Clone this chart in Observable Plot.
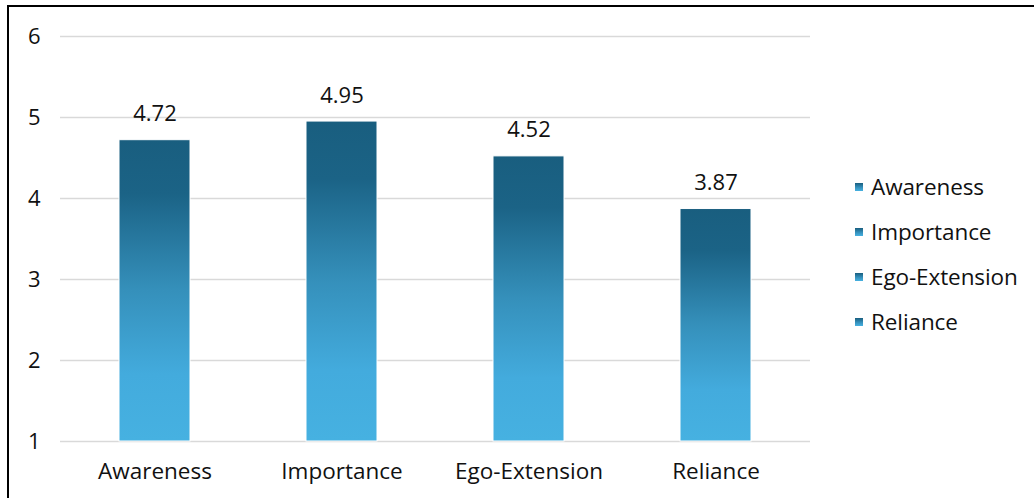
<!DOCTYPE html>
<html>
<head>
<meta charset="utf-8">
<script src="https://cdn.jsdelivr.net/npm/d3@7"></script>
<script src="https://cdn.jsdelivr.net/npm/@observablehq/plot@0.6"></script>
<style>
  html, body { margin: 0; padding: 0; background: #fff; }
  #wrap { position: relative; width: 1034px; height: 498px; overflow: hidden; font-family: "Open Sans", "Liberation Sans", sans-serif; }
  #frame { position: absolute; left: 7px; top: 5px; width: 1100px; height: 600px; border-top: 2px solid #000; border-left: 2px solid #000; pointer-events: none; }
  #legend { position: absolute; left: 855px; top: 164px; font-size: 22.5px; color: #111; letter-spacing: -0.1px; }
  .item { display: flex; align-items: center; height: 45px; margin: 0; }
  .sw { width: 8px; height: 8px; margin-right: 8px; background: linear-gradient(#195e7f, #3590bb 55%, #46b1e1); }
</style>
</head>
<body>
<div id="wrap"><div id="frame"></div><div id="legend"></div></div>
<script>
const categories = ["Awareness", "Importance", "Ego-Extension", "Reliance"];
const values = [4.72, 4.95, 4.52, 3.87];
const yTicks = [1, 2, 3, 4, 5, 6];

const data = categories.map((c, i) => ({category: c, value: values[i]}));
const FS = 22.5;

const chart = Plot.plot({
  width: 1034,
  height: 498,
  marginLeft: 60,
  marginRight: 224,
  marginTop: 36,
  marginBottom: 57,
  style: {fontFamily: "'Open Sans', 'Liberation Sans', sans-serif", fontSize: FS + "px", color: "#111", background: "transparent"},
  x: {domain: categories, label: null, paddingInner: 0.62, paddingOuter: 0.31},
  y: {domain: [1, 6], label: null},
  marks: [
    Plot.gridY(yTicks, {stroke: "#d9d9d9", strokeOpacity: 1, strokeWidth: 1.5}),
    Plot.barY(data, {x: "category", y1: 1, y2: "value", fill: "url(#barGrad)", stroke: "#fff", strokeWidth: 1}),
    Plot.text(data, {x: "category", y: "value", text: d => d.value.toFixed(2), dy: -26, fill: "#111", fontSize: 22}),
    Plot.axisX({tickSize: 0, tickPadding: 22, fontSize: FS}),
    Plot.axisY({ticks: yTicks, tickFormat: "d", tickSize: 0, tickPadding: 20, fontSize: 22})
  ]
});

const svg = d3.select(chart);
const grad = svg.insert("defs", ":first-child").append("linearGradient")
  .attr("id", "barGrad").attr("x1", 0).attr("y1", 0).attr("x2", 0).attr("y2", 1);
[[0, "#195e7f"], [0.18, "#1b6386"], [0.5, "#3590bb"], [0.78, "#43abdd"], [1, "#46b1e1"]]
  .forEach(([o, c]) => grad.append("stop").attr("offset", o).attr("stop-color", c));

document.getElementById("wrap").prepend(chart);

const legend = d3.select("#legend");
categories.forEach(c => {
  const it = legend.append("div").attr("class", "item");
  it.append("div").attr("class", "sw");
  it.append("span").text(c);
});
</script>
</body>
</html>
